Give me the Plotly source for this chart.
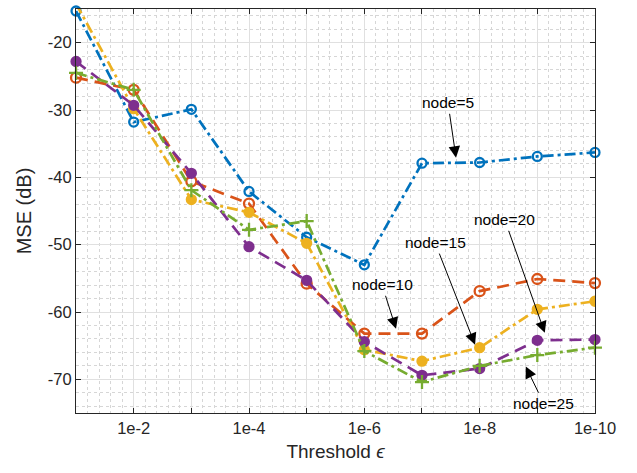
import plotly.graph_objects as go

# ---- data ----
thresholds = [1e-1, 1e-2, 1e-3, 1e-4, 1e-5, 1e-6, 1e-7, 1e-8, 1e-9, 1e-10]
mse_node5 = [-15.3, -31.8, -29.9, -42.1, -48.9, -53.0, -37.9, -37.8, -36.9, -36.3]
mse_node10 = [-25.2, -27.0, -40.6, -43.9, -55.8, -63.2, -63.2, -56.9, -55.1, -55.7]
mse_node15 = [-14.2, -29.8, -43.3, -45.2, -49.8, -65.6, -67.3, -65.3, -59.6, -58.4]
mse_node20 = [-22.8, -29.3, -39.4, -50.3, -55.3, -64.4, -69.4, -68.4, -64.2, -64.1]
mse_node25 = [-24.5, -27.0, -41.9, -47.8, -46.5, -65.8, -70.4, -68.0, -66.4, -65.3]

x_tickvals = [1e-1, 1e-2, 1e-3, 1e-4, 1e-5, 1e-6, 1e-7, 1e-8, 1e-9, 1e-10]
x_ticktext = ["", "1e-2", "", "1e-4", "", "1e-6", "", "1e-8", "", "1e-10"]
y_tickvals = [-70, -60, -50, -40, -30, -20]
y_ticktext = ["-70", "-60", "-50", "-40", "-30", "-20"]

# annotation labels: (text, target threshold exponent, target MSE, text offset px)
ann_text = ["node=5", "node=10", "node=15", "node=20", "node=25"]
ann_xexp = [-7.59, -6.55, -7.92, -9.13, -8.80]
ann_y = [-37.1, -62.5, -64.85, -63.1, -68.1]
ann_ax = [-8, -14, -40, -40, 18]
ann_ay = [-55, -44, -102, -113, 37]

colors = ["#0072BD", "#D95319", "#EDB120", "#7E2F8E", "#77AC30"]
dashdot = "11px,4px,3px,4px"
dashed = "12px,7px"

series = [
    ("node=5", mse_node5, colors[0], dashdot, "circle-open", 9, False),
    ("node=10", mse_node10, colors[1], dashed, "circle-open", 10, False),
    ("node=15", mse_node15, colors[2], dashdot, "circle", 9, True),
    ("node=20", mse_node20, colors[3], dashed, "circle", 9, False),
    ("node=25", mse_node25, colors[4], dashdot, "cross-thin-open", 10, False),
]

fig = go.Figure()
for name, vals, col, dash, sym, size, clip in series:
    fig.add_trace(go.Scatter(
        x=thresholds, y=vals, name=name, mode="lines+markers",
        line=dict(color=col, width=2.7, dash=dash),
        marker=dict(symbol=sym, size=size, color=col,
                    line=dict(color=col, width=2.3)),
        cliponaxis=clip,
    ))

for t, xe, yv, ax, ay in zip(ann_text, ann_xexp, ann_y, ann_ax, ann_ay):
    fig.add_annotation(
        x=xe, y=yv, xref="x", yref="y", text=t, showarrow=True,
        ax=ax, ay=ay, arrowhead=2, arrowsize=2.3, arrowwidth=1,
        arrowcolor="black", standoff=0, startstandoff=1,
        font=dict(family="Liberation Sans, Arial", size=15.5, color="black"),
    )

# minor grid: 4 evenly spaced (in log) lines per decade
minor_x = [10.0 ** (-e - k / 5.0) for e in range(1, 10) for k in range(1, 5)]

axis_common = dict(
    showline=True, linecolor="#262626", linewidth=1, mirror="ticks",
    ticks="inside", ticklen=5, tickcolor="#262626",
    showgrid=True, gridcolor="#e0e0e0", gridwidth=1,
    tickfont=dict(family="Liberation Sans, Arial", size=16.5, color="#262626"),
    zeroline=False,
)

fig.update_xaxes(
    type="log", range=[-0.9995, -10.0005],
    tickvals=x_tickvals, ticktext=x_ticktext,
    title=dict(text="Threshold <i>ϵ</i>", standoff=8,
               font=dict(family="Liberation Sans, Arial", size=19, color="#262626")),
    minor=dict(tickvals=minor_x, showgrid=True, gridcolor="#d6d6d6",
               griddash="dot", gridwidth=1, ticks=""),
    **axis_common,
)
fig.update_yaxes(
    range=[-75, -15], tickvals=y_tickvals, ticktext=y_ticktext,
    title=dict(text="MSE (dB)", standoff=10,
               font=dict(family="Liberation Sans, Arial", size=20, color="#262626")),
    minor=dict(dtick=2, showgrid=True, gridcolor="#d6d6d6",
               griddash="dot", gridwidth=1, ticks=""),
    **axis_common,
)

fig.update_layout(
    width=637, height=473,
    margin=dict(l=76, r=42, t=9, b=60),
    paper_bgcolor="white", plot_bgcolor="white",
    showlegend=False,
)

fig.write_html("out.html")
